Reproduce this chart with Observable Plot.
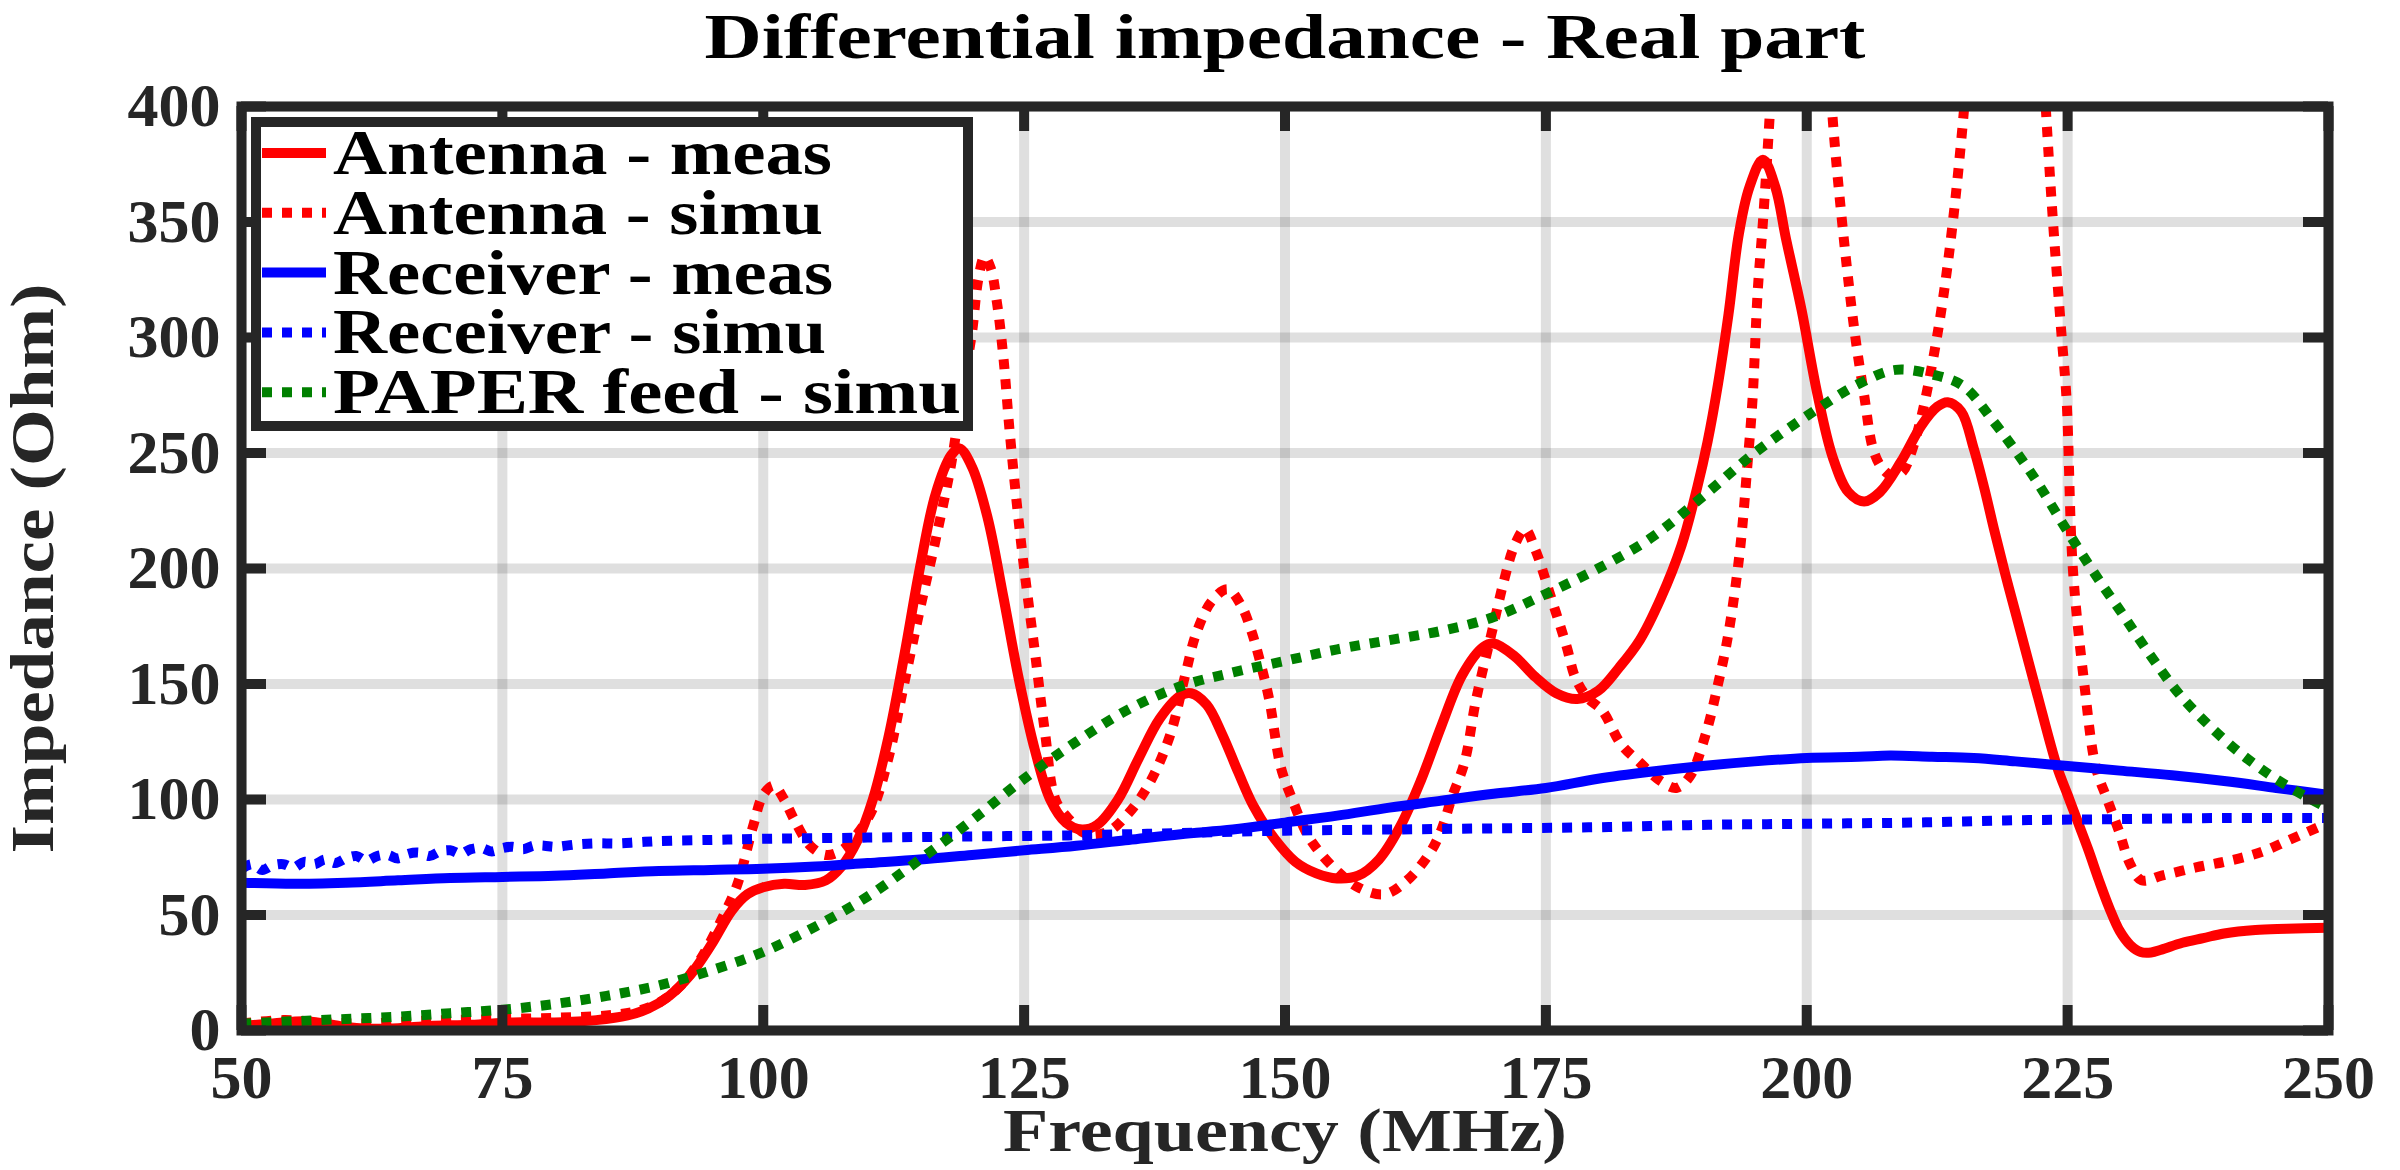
<!DOCTYPE html>
<html>
<head>
<meta charset="utf-8">
<script src="https://cdn.jsdelivr.net/npm/d3@7"></script>
<script src="https://cdn.jsdelivr.net/npm/@observablehq/plot@0.6"></script>
<style>
  html, body { margin: 0; padding: 0; background: #fff; }
  #chart { position: relative; width: 2400px; height: 1170px; }
</style>
</head>
<body>
<div id="chart"></div>
<script>
// ---- Text ----
const titleText = "Differential impedance - Real part";
const xLabelText = "Frequency (MHz)";
const yLabelText = "Impedance (Ohm)";
const serifFont = "'Liberation Serif', 'DejaVu Serif', serif";

// ---- Ticks ----
const xTicks = [50, 75, 100, 125, 150, 175, 200, 225, 250];
const yTicks = [0, 50, 100, 150, 200, 250, 300, 350, 400];

// ---- Series: [frequency (MHz), real part of impedance (Ohm)] ----
const antennaMeas = [
  [50,2],[53,3],[56,4],[58,3],[60,1.5],[62,0.8],[65,1],[68,2],[72,2.5],[76,3.5],[80,3.5],[84,4.5],
  [87,6.5],[89,9.5],[91,15],[93,24],[95,37],[97,52],[98.5,59],[100,62],[102,63.5],[104,63],[106,65],
  [107.5,71],[109,82],[110.5,100],[112,127],[113.5,162],[115,200],[116.5,232],[118,249],[118.8,252],
  [120,244],[121.5,222],[123,188],[124.5,152],[126,122],[127.5,100],[129,90],[130.5,87],[132,89],
  [134,100],[136,118],[138,135],[140,145],[141,146],[142.5,141],[144,128],[145.5,112],[147,97],
  [149,83],[151,73],[153,68],[155,65.8],[157,67],[159,74],[161,88],[163,108],[165,132],[167,154],
  [169,166],[170,167.5],[172,162],[174,153],[176,146],[178,143.5],[180,147],[182,157],[184,169],
  [186,187],[188,210],[189.5,235],[190.5,255],[191.5,280],[192.5,310],[193.5,345],[194.5,365],
  [195.8,377],[197,365],[198,343],[199.5,312],[201,276],[202.5,248],[204,233],[205.5,229],[207,233],
  [209,246],[211,262],[212.5,270],[213.5,272],[214.8,268],[216,252],[217,235],[218,216],[219,198],
  [220,181],[222,147],[224,114],[225,102],[226,90],[227,78],[228,65],[229,53],[230,43],[231,37],
  [232,34],[233,33.8],[234,35],[236,38],[238,40],[240,42],[243,43.5],[246,44],[250,44.5]
];

const antennaSimu = [
  [50,3],[54,4.5],[58,3.5],[62,3],[66,4],[70,4.5],[75,5],[80,5.5],[85,6.5],[88,8.5],[90,12],[92,19],
  [94,31],[96,48],[97.5,63],[99,88],[100,102],[101,106],[102,100],[103,91],[104.5,80],[106,76],
  [107.5,78],[109,85],[110.5,96],[112,118],[113.5,150],[115,182],[116.5,212],[118,245],[119,275],
  [120,302],[120.6,325],[121.2,335],[121.8,330],[122.4,315],[123,292],[123.6,260],[124.3,228],
  [125,200],[126,165],[127,129],[128,100],[129.2,92],[131,85],[133,86],[135,94],[137,107],[139,128],
  [140.5,155],[141.5,172],[143,186],[144.5,191],[145.8,184],[146.7,174],[147.6,160],[148.5,143],
  [149.6,114],[150.7,100],[152,86],[153,79],[155,69],[157,62],[159.5,59],[161.7,65],[163.9,77],
  [165,87],[166,101],[167.2,116],[168.3,143],[169.8,172],[171,195],[172,210],[173,217],[174,208],
  [175.6,186],[177,166],[177.8,153],[179,144],[180.4,138.5],[182.2,124],[184,116],[186,108],
  [187.5,105],[188.8,110],[190.3,128],[191.5,150],[192.5,172],[193.6,208],[194.3,244],[194.8,273],
  [195.3,320],[195.8,350],[196.5,400],[197.2,460],[199.5,600],[201.8,455],[202.4,400],[203.5,345],
  [204.6,302],[205.5,275],[206.4,251],[207.3,243],[208.3,240],[209.2,242],[210,250],[211,266],
  [212,288],[213,315],[214,350],[215,395],[215.6,430],[218,580],[221,560],[222.9,400],[223.6,350],
  [224.4,302],[224.9,273],[225.5,200],[226.6,150],[227.7,114],[228.8,100],[229.9,86.6],[231,72],
  [232.1,65],[234,67],[237.3,70.6],[240,73],[242.3,75.5],[244,78],[246,82],[248,86],[250,90]
];

const receiverMeas = [
  [50,64],[55,63.5],[60,64],[65,65],[70,66],[75,66.5],[80,67],[85,68],[90,69],[95,69.5],[100,70],
  [105,71],[110,72.5],[115,74],[120,76],[125,78],[130,80],[135,82.5],[140,85],[145,87],[150,90],
  [155,93],[160,96.5],[165,99.5],[170,102.5],[175,105],[180,109],[185,112],[190,114.5],[195,116.5],
  [200,118],[205,118.5],[208,119],[212,118.5],[216,118],[220,116.5],[225,114.5],[230,112.5],
  [235,110.5],[240,108],[245,105],[250,102]
];

const receiverSimu = [
  [50,70],[51,72],[52,69.5],[53,71.5],[54,72],[55,70.5],[56,73],[57,72],[58,74],[59,72.5],[60,74.5],
  [61,75.5],[62,73.5],[63,75.5],[64,76],[65,74.5],[66,76.5],[67,77],[68,75.5],[69,77.5],[70,78],
  [71,76.5],[72,78.5],[73,79],[74,77.5],[75,79],[76,79.5],[77,78.5],[78,80],[79,80],[80,79.5],
  [82,80.5],[84,81],[86,81],[88,81.5],[90,82],[95,82.5],[100,83],[110,83.5],[120,84],[130,84.5],
  [140,85.5],[150,86.5],[160,87],[170,87.5],[180,88],[190,89],[200,89.5],[210,90],[220,91],
  [230,91.5],[240,92],[250,92]
];

const paperFeedSimu = [
  [50,3],[55,4],[60,5],[65,6],[70,7.5],[75,9],[80,11.5],[85,15],[90,19.5],[95,26],[100,34],[105,45],
  [110,58],[115,74],[120,91],[125,109],[130,125],[135,139],[140,149],[145,155],[150,160],[155,165],
  [160,169],[165,173],[170,179],[175,189],[180,200],[185,213],[190,231],[195,250],[200,266],
  [205,280],[208.5,286],[212,284],[215,279],[218,263],[220,251],[222,238],[225,216],[228,195],
  [230,182],[233,162],[236,144],[240,126],[243,115],[246,106],[250,96]
];

const series = [
  {name: "Antenna - meas",    color: "#ff0000", dotted: false, data: antennaMeas},
  {name: "Antenna - simu",    color: "#ff0000", dotted: true,  data: antennaSimu},
  {name: "Receiver - meas",   color: "#0000ff", dotted: false, data: receiverMeas},
  {name: "Receiver - simu",   color: "#0000ff", dotted: true,  data: receiverSimu},
  {name: "PAPER feed - simu", color: "#008000", dotted: true,  data: paperFeedSimu}
];

// ---- Layout ----
const W = 2400, H = 1170;
const mTop = 106, mRight = 72, mBottom = 140, mLeft = 241;
const frameW = W - mLeft - mRight;
const frameH = H - mTop - mBottom;
const tickLen = 25;
const axisColor = "#262626";
const lineW = 10;
const dots = "10,10";
// set widths of the wide bold headings (px)
const titleWidth = 1161, xLabelWidth = 564, yLabelWidth = 570;
const legendTextWidths = [499, 490, 500, 493, 628];

const lineMarks = series.map(s => Plot.line(s.data, {
  x: d => d[0],
  y: d => d[1],
  stroke: s.color,
  strokeWidth: lineW,
  strokeDasharray: s.dotted ? dots : null,
  strokeLinecap: s.dotted ? "butt" : "round",
  strokeLinejoin: "round",
  curve: "catmull-rom",
  clip: true
}));

const chart = Plot.plot({
  width: W,
  height: H,
  marginTop: mTop,
  marginRight: mRight,
  marginBottom: mBottom,
  marginLeft: mLeft,
  style: {background: "#fff", overflow: "visible", fontFamily: serifFont},
  x: {domain: [50, 250]},
  y: {domain: [0, 400]},
  marks: [
    Plot.gridX(xTicks, {stroke: axisColor, strokeOpacity: 0.15, strokeWidth: 10}),
    Plot.gridY(yTicks, {stroke: axisColor, strokeOpacity: 0.15, strokeWidth: 10}),
    ...lineMarks,
    // inward ticks on all four sides
    Plot.tickX(xTicks, {x: d => d, insetTop: frameH - tickLen, stroke: axisColor, strokeWidth: 10}),
    Plot.tickX(xTicks, {x: d => d, insetBottom: frameH - tickLen, stroke: axisColor, strokeWidth: 10}),
    Plot.tickY(yTicks, {y: d => d, insetRight: frameW - tickLen, stroke: axisColor, strokeWidth: 10}),
    Plot.tickY(yTicks, {y: d => d, insetLeft: frameW - tickLen, stroke: axisColor, strokeWidth: 10}),
    Plot.frame({stroke: axisColor, strokeWidth: 10}),
    Plot.axisX(xTicks, {tickSize: 0, tickPadding: 23, fontSize: 62, fontWeight: "bold", fontFamily: serifFont, fill: axisColor, label: null}),
    Plot.axisY(yTicks, {tickSize: 0, tickPadding: 21, fontSize: 62, fontWeight: "bold", fontFamily: serifFont, fill: axisColor, label: null}),
    Plot.text([titleText], {
      text: d => d, frameAnchor: "top", dy: -49, lineAnchor: "bottom", textAnchor: "middle",
      fontSize: 64, fontWeight: "bold", fontFamily: serifFont, fill: "#000"
    }),
    Plot.text([xLabelText], {
      text: d => d, frameAnchor: "bottom", dy: 120, lineAnchor: "bottom", textAnchor: "middle",
      fontSize: 61, fontWeight: "bold", fontFamily: serifFont, fill: axisColor
    }),
    Plot.text([yLabelText], {
      text: d => d, frameAnchor: "left", dx: -189, rotate: -90, lineAnchor: "bottom", textAnchor: "middle",
      fontSize: 61, fontWeight: "bold", fontFamily: serifFont, fill: axisColor
    })
  ]
});

const root = document.getElementById("chart");
root.appendChild(chart);

// widen the headings to the extended bold face proportions
const stretch = (label, len) => d3.select(chart).selectAll("text")
  .filter(function() { return this.textContent === label; })
  .attr("textLength", len)
  .attr("lengthAdjust", "spacingAndGlyphs");
stretch(titleText, titleWidth);
stretch(xLabelText, xLabelWidth);
stretch(yLabelText, yLabelWidth);

// ---- Legend box in the upper-left corner of the axes ----
const legend = d3.create("svg")
  .attr("class", "legend")
  .attr("width", W)
  .attr("height", H)
  .style("position", "absolute")
  .style("left", "0px")
  .style("top", "0px")
  .style("pointer-events", "none");

legend.append("rect")
  .attr("x", 256).attr("y", 122)
  .attr("width", 712).attr("height", 304)
  .attr("fill", "#fff")
  .attr("stroke", axisColor)
  .attr("stroke-width", 10);

series.forEach((s, i) => {
  const cy = 153 + i * 59.8;
  legend.append("line")
    .attr("x1", 262).attr("x2", 326)
    .attr("y1", cy).attr("y2", cy)
    .attr("stroke", s.color)
    .attr("stroke-width", lineW)
    .attr("stroke-dasharray", s.dotted ? dots : null);
  legend.append("text")
    .attr("x", 333)
    .attr("y", cy + 21)
    .attr("font-size", 63)
    .attr("fill", "#000")
    .attr("textLength", legendTextWidths[i])
    .attr("lengthAdjust", "spacingAndGlyphs")
    .text(s.name);
});

root.appendChild(legend.node());

// every label in both layers uses the bold serif face
d3.select(root).selectAll("text")
  .style("font-family", serifFont)
  .style("font-weight", "bold");
</script>
</body>
</html>
